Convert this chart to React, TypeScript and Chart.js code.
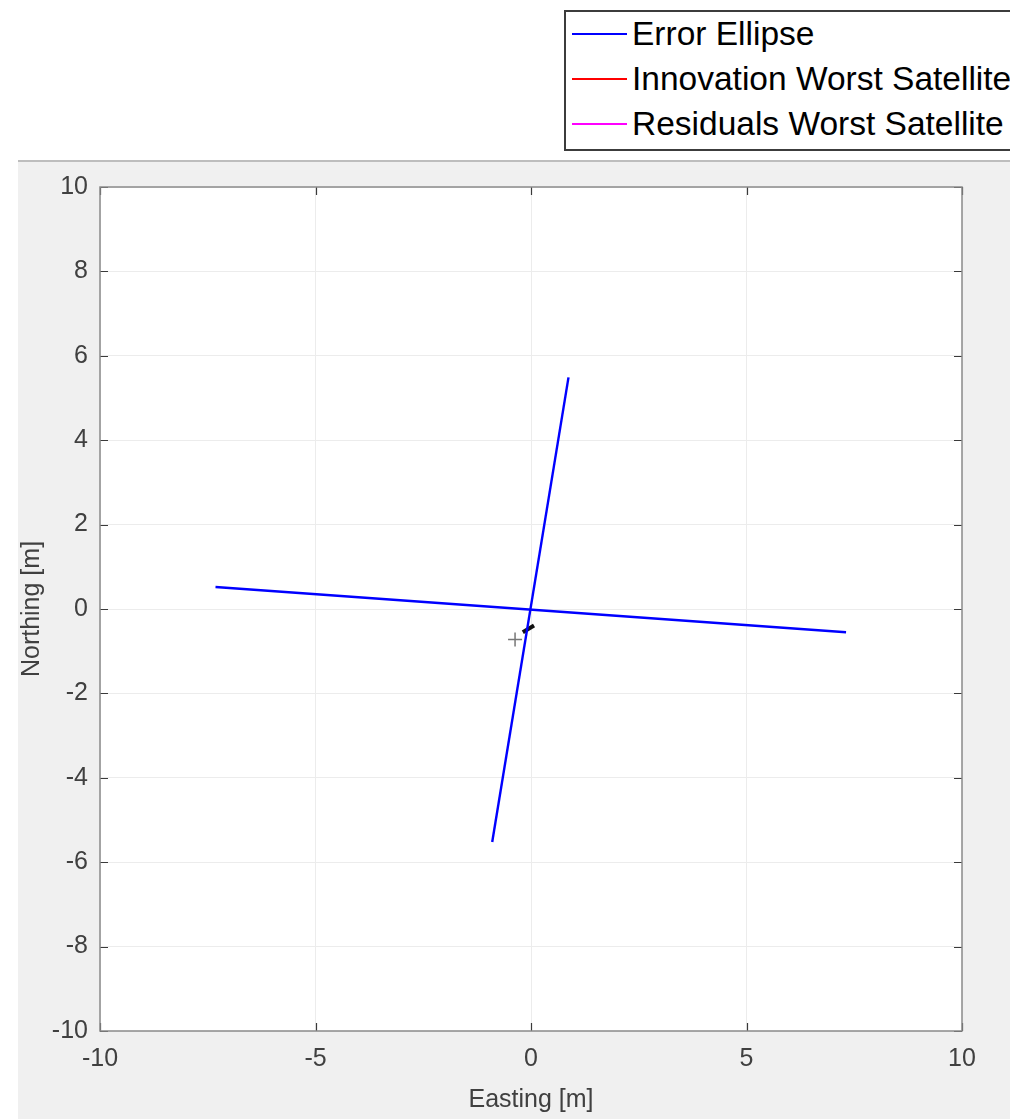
import React, { useEffect, useRef } from "react";
import { Chart, registerables } from "chart.js";

Chart.register(...registerables);

// ---- data ----
const majorAxisX = [-7.32, 7.31];
const majorAxisY = [0.52, -0.55];
const minorAxisX = [0.87, -0.9];
const minorAxisY = [5.49, -5.52];
const innovationX: number[] = [];
const innovationY: number[] = [];
const residualX: number[] = [];
const residualY: number[] = [];
const cursorMarkX = [-0.37];
const cursorMarkY = [-0.72];
const cursorArrowX = [-0.19, 0.07];
const cursorArrowY = [-0.55, -0.39];

const legendLabels = ["Error Ellipse", "Innovation Worst Satellite", "Residuals Worst Satellite"];
const legendColors = ["#0000ff", "#ff0000", "#ff00ff"];

const xMin = -10, xMax = 10, xStep = 5;
const yMin = -10, yMax = 10, yStep = 2;
const xTitle = "Easting [m]";
const yTitle = "Northing [m]";

const FONT = '"Liberation Sans", Arial, Helvetica, sans-serif';

const pts = (xs: number[], ys: number[]) => xs.map((x, i) => ({ x, y: ys[i] }));

const framePlugin = {
  id: "matlabFrame",
  beforeDraw(chart: any) {
    const ctx = chart.ctx;
    const a = chart.chartArea;
    ctx.save();
    ctx.fillStyle = "#ffffff";
    ctx.fillRect(0, 0, chart.width, chart.height);
    ctx.fillStyle = "#f0f0f0";
    ctx.fillRect(18, 161, chart.width - 18, chart.height - 161);
    ctx.fillStyle = "#bdbdbd";
    ctx.fillRect(18, 160, chart.width - 18, 2);
    ctx.fillStyle = "#ffffff";
    ctx.fillRect(a.left, a.top, a.right - a.left, a.bottom - a.top);
    ctx.restore();
  },
  afterDraw(chart: any) {
    const ctx = chart.ctx;
    const a = chart.chartArea;
    const xs = chart.scales.x;
    const ys = chart.scales.y;
    ctx.save();
    ctx.strokeStyle = "#3a3a3a";
    ctx.lineWidth = 1.2;
    const tl = 8;
    ctx.beginPath();
    xs.ticks.forEach((t: any) => {
      const px = Math.round(xs.getPixelForValue(t.value)) + 0.5;
      ctx.moveTo(px, a.bottom);
      ctx.lineTo(px, a.bottom - tl);
      ctx.moveTo(px, a.top);
      ctx.lineTo(px, a.top + tl);
    });
    ys.ticks.forEach((t: any) => {
      const py = Math.round(ys.getPixelForValue(t.value)) + 0.5;
      ctx.moveTo(a.left, py);
      ctx.lineTo(a.left + tl, py);
      ctx.moveTo(a.right, py);
      ctx.lineTo(a.right - tl, py);
    });
    ctx.stroke();
    ctx.strokeStyle = "#8a8a8a";
    ctx.lineWidth = 1.5;
    ctx.strokeRect(a.left, a.top, a.right - a.left, a.bottom - a.top);
    ctx.restore();
  },
};

export default function App() {
  const ref = useRef<HTMLCanvasElement | null>(null);

  useEffect(() => {
    if (!ref.current) return;
    const chart = new Chart(ref.current, {
      type: "scatter",
      data: {
        datasets: [
          {
            label: legendLabels[0],
            data: pts(majorAxisX, majorAxisY),
            showLine: true,
            borderColor: legendColors[0],
            borderWidth: 2.4,
            pointRadius: 0,
          },
          {
            label: "minor",
            data: pts(minorAxisX, minorAxisY),
            showLine: true,
            borderColor: legendColors[0],
            borderWidth: 2.4,
            pointRadius: 0,
          },
          {
            label: legendLabels[1],
            data: pts(innovationX, innovationY),
            showLine: true,
            borderColor: legendColors[1],
            borderWidth: 2,
            pointRadius: 0,
          },
          {
            label: legendLabels[2],
            data: pts(residualX, residualY),
            showLine: true,
            borderColor: legendColors[2],
            borderWidth: 2,
            pointRadius: 0,
          },
          {
            label: "cursorArrow",
            data: pts(cursorArrowX, cursorArrowY),
            showLine: true,
            borderColor: "#111111",
            borderWidth: 4,
            pointRadius: 0,
          },
          {
            label: "cursorMark",
            data: pts(cursorMarkX, cursorMarkY),
            pointStyle: "cross",
            pointRadius: 7,
            borderColor: "#777777",
            borderWidth: 1.5,
            backgroundColor: "#777777",
          },
        ],
      },
      options: {
        animation: false,
        responsive: false,
        maintainAspectRatio: false,
        layout: { padding: { top: 187, right: 48, left: 0, bottom: 0 } },
        plugins: { legend: { display: false }, tooltip: { enabled: false } },
        scales: {
          x: {
            type: "linear",
            min: xMin,
            max: xMax,
            afterFit: (s: any) => {
              s.height = 88;
            },
            ticks: {
              stepSize: xStep,
              autoSkip: false,
              maxRotation: 0,
              padding: 13,
              color: "#404040",
              font: { family: FONT, size: 25 },
            },
            grid: { color: "#ececec", lineWidth: 1, drawTicks: false },
            border: { display: false },
            title: {
              display: true,
              text: xTitle,
              color: "#404040",
              font: { family: FONT, size: 25 },
              padding: { top: 0, bottom: 4 },
            },
          },
          y: {
            type: "linear",
            min: yMin,
            max: yMax,
            afterFit: (s: any) => {
              s.width = 100;
            },
            ticks: {
              stepSize: yStep,
              autoSkip: false,
              padding: 12,
              color: "#404040",
              font: { family: FONT, size: 25 },
            },
            grid: { color: "#ececec", lineWidth: 1, drawTicks: false },
            border: { display: false },
            title: {
              display: true,
              text: yTitle,
              color: "#404040",
              font: { family: FONT, size: 25 },
              padding: { top: 17, bottom: 0 },
            },
          },
        },
      },
      plugins: [framePlugin],
    });
    return () => chart.destroy();
  }, []);

  return (
    <div
      style={{
        position: "fixed",
        left: 0,
        top: 0,
        width: 1010,
        height: 1119,
        overflow: "hidden",
        background: "#ffffff",
      }}
    >
      <canvas ref={ref} width={1010} height={1119} style={{ position: "absolute", left: 0, top: 0 }} />
      <div
        style={{
          position: "absolute",
          left: 564,
          top: 10,
          width: 500,
          height: 137,
          borderTop: "2px solid #3c3c3c",
          borderBottom: "2px solid #3c3c3c",
          borderLeft: "2px solid #3c3c3c",
          borderRight: "none",
          background: "#ffffff",
          fontFamily: FONT,
          fontSize: 33.5,
          color: "#000000",
        }}
      >
        {legendLabels.map((lab, i) => (
          <div
            key={lab}
            style={{
              position: "absolute",
              left: 0,
              top: 0 + i * 45,
              height: 44,
              display: "flex",
              alignItems: "center",
              whiteSpace: "nowrap",
            }}
          >
            <span
              style={{
                display: "inline-block",
                width: 55,
                height: 2,
                background: legendColors[i],
                marginLeft: 6,
                marginRight: 5,
              }}
            />
            <span>{lab}</span>
          </div>
        ))}
      </div>
    </div>
  );
}
